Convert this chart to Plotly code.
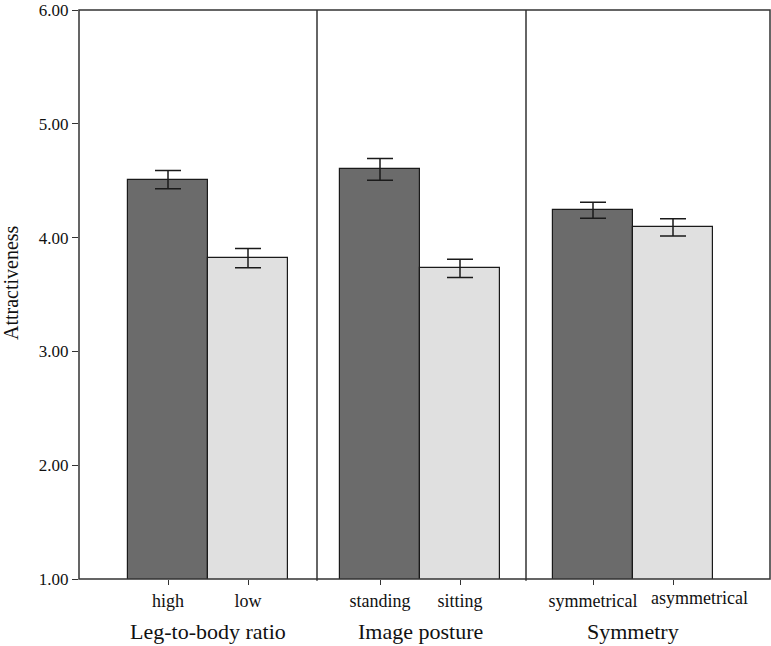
import plotly.graph_objects as go

# ---- data ----
factors = ["Leg-to-body ratio", "Image posture", "Symmetry"]
levels = [["high", "low"], ["standing", "sitting"], ["symmetrical", "asymmetrical"]]
means = [[4.51, 3.82], [4.60, 3.73], [4.24, 4.09]]
errors = [[0.08, 0.085], [0.095, 0.08], [0.07, 0.075]]
yticks = [1, 2, 3, 4, 5, 6]
ytick_labels = ["1.00", "2.00", "3.00", "4.00", "5.00", "6.00"]

bar_colors = ["#6b6b6b", "#e0e0e0"]
FONT = "Liberation Serif"

W, H = 771, 646
ml, mr, mt, mb = 79, 1, 10, 67
pw = W - ml - mr
# panel pixel boundaries (plot-area relative)
bounds_px = [0, 238, 447, pw]
domains = [[bounds_px[i] / pw, bounds_px[i + 1] / pw] for i in range(3)]
ranges = [[-1.1125, -1.1125 + 238 / 80], [-0.7875, -0.7875 + 209 / 80],
          [-0.8375, -0.8375 + (pw - 447) / 80]]

fig = go.Figure()
for i in range(3):
    xa = "x" if i == 0 else f"x{i+1}"
    fig.add_trace(go.Bar(
        x=levels[i], y=means[i], xaxis=xa, yaxis="y",
        marker=dict(color=bar_colors, line=dict(color="#1a1a1a", width=1.2)),
        error_y=dict(type="data", array=errors[i], visible=True,
                     color="#1a1a1a", thickness=1.5, width=13),
        width=1, showlegend=False, hoverinfo="skip"))

layout = dict(
    width=W, height=H,
    margin=dict(l=ml, r=mr, t=mt, b=mb, autoexpand=False),
    paper_bgcolor="white", plot_bgcolor="white",
    bargap=0,
    font=dict(family=FONT, color="#111111"),
    yaxis=dict(range=[1, 6], tickvals=yticks, ticktext=ytick_labels,
               ticks="outside", ticklen=6, tickwidth=1.3, tickcolor="#333",
               showgrid=False, zeroline=False, showline=False, automargin=False,
               ticklabeloverflow="allow",
               tickfont=dict(family=FONT, size=17, color="#111")),
    showlegend=False,
)
for i in range(3):
    key = "xaxis" if i == 0 else f"xaxis{i+1}"
    ax = dict(domain=domains[i], anchor="y", range=ranges[i],
              type="category", ticks="outside", ticklen=5,
              tickwidth=1.3, tickcolor="#333", tickangle=0,
              automargin=False, ticklabeloverflow="allow",
              showgrid=False, zeroline=False, showline=False,
              tickfont=dict(family=FONT, size=18, color="#111"))
    if i == 2:
        # second label is drawn shifted right (as in the original) via annotation
        ax.update(tickmode="array", tickvals=levels[i], ticktext=[levels[i][0], ""])
    layout[key] = ax
fig.update_layout(**layout)

shapes = [dict(type="rect", xref="paper", yref="paper", x0=0, x1=1, y0=0, y1=1,
               line=dict(color="#333", width=1.5))]
for b in bounds_px[1:3]:
    shapes.append(dict(type="line", xref="paper", yref="paper",
                       x0=b / pw, x1=b / pw, y0=-0.003, y1=1,
                       line=dict(color="#333", width=1.5)))
fig.update_layout(shapes=shapes)

annos = []
ph = H - mt - mb
for i in range(3):
    xr = "x" if i == 0 else f"x{i+1}"
    annos.append(dict(text=factors[i], xref=xr, yref="paper", x=0.5,
                      y=(H - mb - 632) / ph, yanchor="middle", xanchor="center",
                      showarrow=False, font=dict(family=FONT, size=22, color="#111")))
annos.append(dict(text=levels[2][1], xref="x3", yref="paper", x=levels[2][1],
                  xshift=26, y=(H - mb - 598) / ph, yanchor="middle",
                  xanchor="center", showarrow=False,
                  font=dict(family=FONT, size=18, color="#111")))
annos.append(dict(text="Attractiveness", xref="paper", yref="paper",
                  x=(11 - ml) / pw, y=(H - mb - 283) / ph, textangle=-90,
                  xanchor="center", yanchor="middle", showarrow=False,
                  font=dict(family=FONT, size=20, color="#111")))
fig.update_layout(annotations=annos)

fig.write_html("out.html", config={"displayModeBar": False},
               post_script="document.body.style.margin='0';")
